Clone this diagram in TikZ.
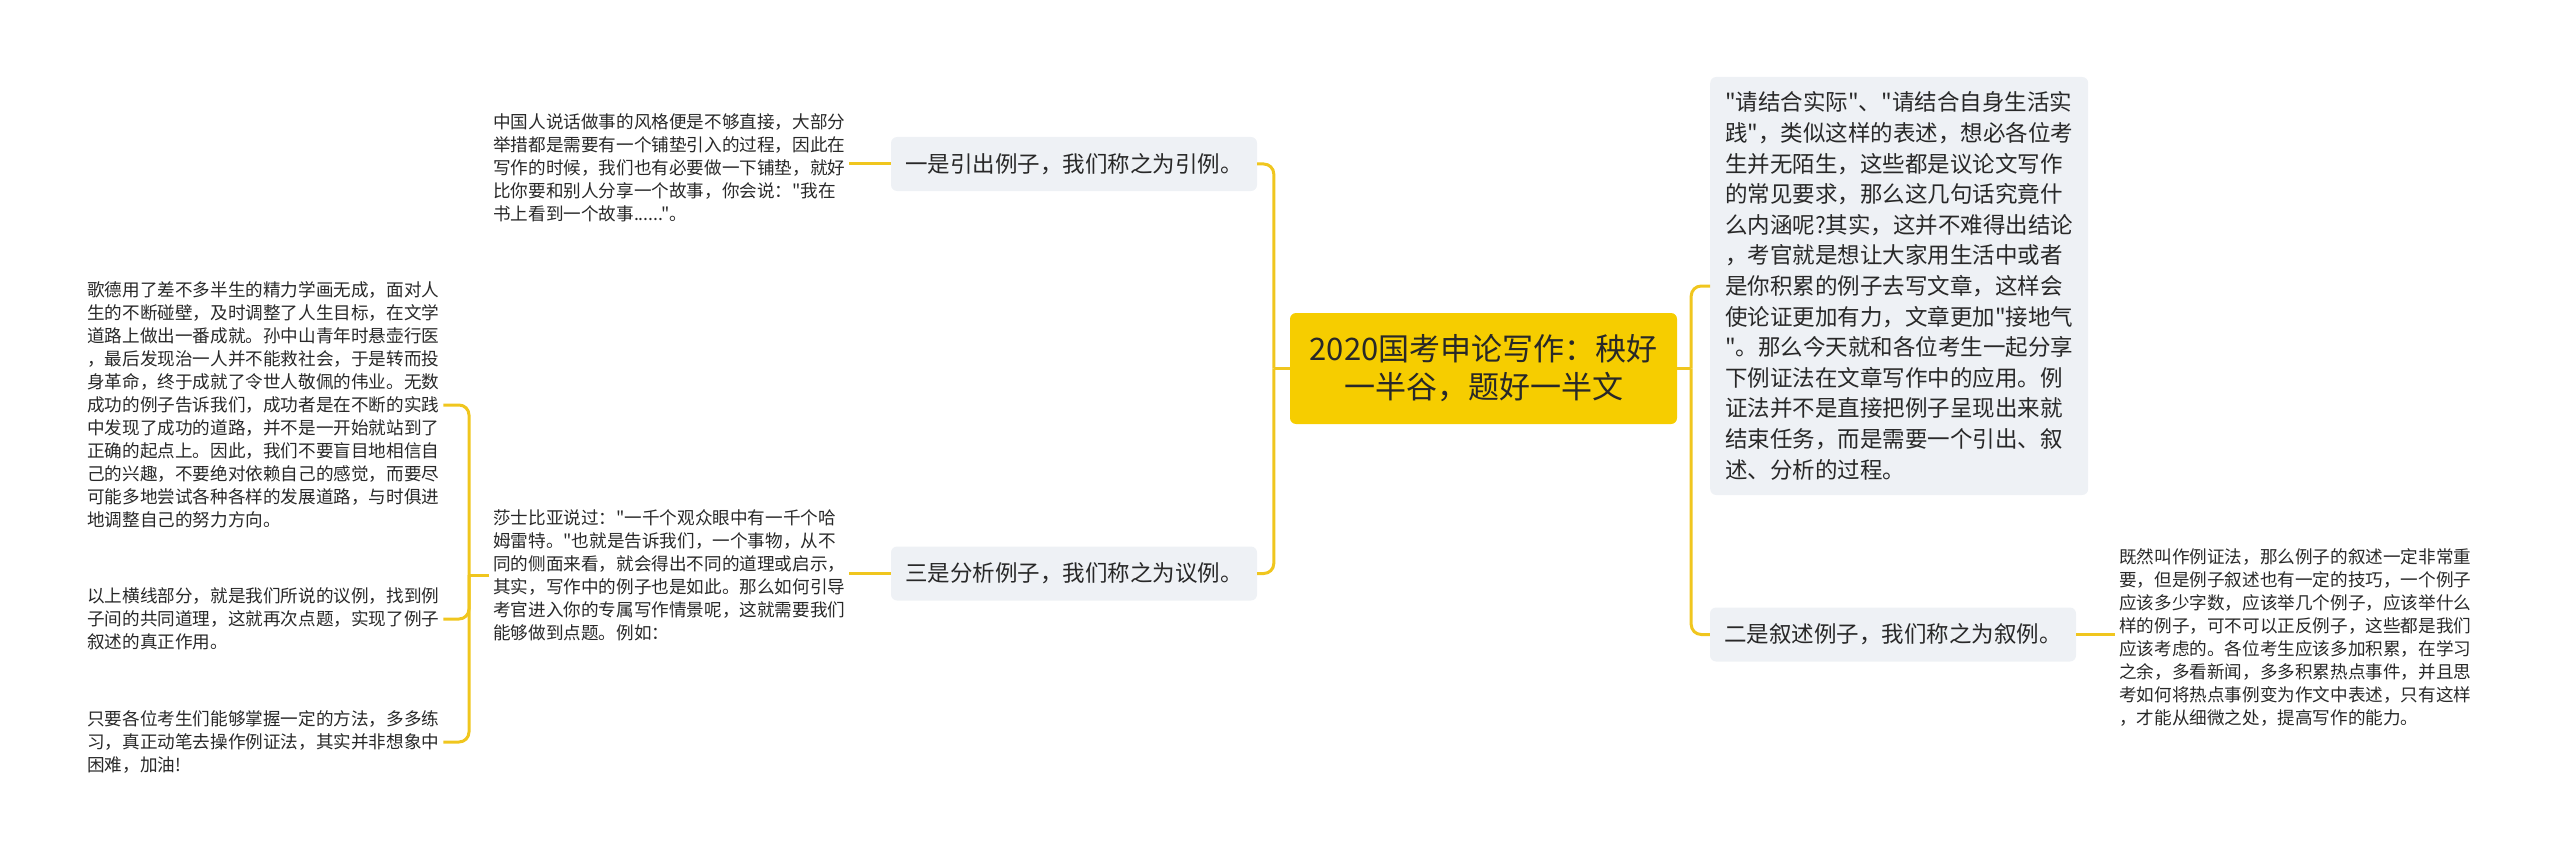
\documentclass[tikz,border=0pt]{standalone}
\usepackage{fontspec}
\newfontfamily\cjk{Noto Sans CJK SC}
\usetikzlibrary{positioning}
\definecolor{gold}{RGB}{246,205,0}
\definecolor{linkgold}{RGB}{240,198,30}
\definecolor{boxgray}{RGB}{238,241,245}
\definecolor{inkgray}{RGB}{40,40,40}

\begin{document}
\begin{tikzpicture}[x=1pt, y=-1pt,
  every node/.style={text=inkgray},
  topic/.style={fill=gold, rounded corners=6pt, minimum width=387pt, minimum height=111pt, align=center, font={\cjk\fontsize{31}{38}\selectfont}},
  branch/.style={fill=boxgray, rounded corners=6pt, minimum width=366pt, minimum height=54pt, font={\cjk\fontsize{22.5}{27}\selectfont}},
  lead/.style={fill=boxgray, rounded corners=6pt, align=left, inner xsep=13pt, minimum width=378pt, minimum height=418pt, font={\cjk\fontsize{22.5}{30.6}\selectfont}},
  note/.style={align=left, inner sep=4pt, font={\cjk\fontsize{17.6}{23}\selectfont}},
  link/.style={draw=linkgold, line width=3pt, rounded corners=10pt}]
\useasboundingbox (0,0) rectangle (2560,864);

% centre and the three kinds of example
\node[topic] (title) at (1483.5,368.5) {2020国考申论写作：秧好\\一半谷，题好一半文};
\node[branch] (yin) at (1074,164) {一是引出例子，我们称之为引例。};
\node[branch] (yi) at (1074,573.5) {三是分析例子，我们称之为议例。};
\node[branch] (xu) at (1893,634.5) {二是叙述例子，我们称之为叙例。};
\node[lead, anchor=west] (lead) at (1710,286) {"请结合实际"、"请结合自身生活实\\践"，类似这样的表述，想必各位考\\生并无陌生，这些都是议论文写作\\的常见要求，那么这几句话究竟什\\么内涵呢?其实，这并不难得出结论\\，考官就是想让大家用生活中或者\\是你积累的例子去写文章，这样会\\使论证更加有力，文章更加"接地气\\"。那么今天就和各位考生一起分享\\下例证法在文章写作中的应用。例\\证法并不是直接把例子呈现出来就\\结束任务，而是需要一个引出、叙\\述、分析的过程。};

% notes
\node[note, anchor=west] (yinnote) at (489,168) {中国人说话做事的风格便是不够直接，大部分\\举措都是需要有一个铺垫引入的过程，因此在\\写作的时候，我们也有必要做一下铺垫，就好\\比你要和别人分享一个故事，你会说："我在\\书上看到一个故事......"。};
\node[note, anchor=west] (yinote) at (489,575) {莎士比亚说过："一千个观众眼中有一千个哈\\姆雷特。"也就是告诉我们，一个事物，从不\\同的侧面来看，就会得出不同的道理或启示，\\其实，写作中的例子也是如此。那么如何引导\\考官进入你的专属写作情景呢，这就需要我们\\能够做到点题。例如：};
\node[note, anchor=west] (xunote) at (2115,637) {既然叫作例证法，那么例子的叙述一定非常重\\要，但是例子叙述也有一定的技巧，一个例子\\应该多少字数，应该举几个例子，应该举什么\\样的例子，可不可以正反例子，这些都是我们\\应该考虑的。各位考生应该多加积累，在学习\\之余，多看新闻，多多积累热点事件，并且思\\考如何将热点事例变为作文中表述，只有这样\\，才能从细微之处，提高写作的能力。};
\node[note, anchor=west] (goethe) at (83,405) {歌德用了差不多半生的精力学画无成，面对人\\生的不断碰壁，及时调整了人生目标，在文学\\道路上做出一番成就。孙中山青年时悬壶行医\\，最后发现治一人并不能救社会，于是转而投\\身革命，终于成就了令世人敬佩的伟业。无数\\成功的例子告诉我们，成功者是在不断的实践\\中发现了成功的道路，并不是一开始就站到了\\正确的起点上。因此，我们不要盲目地相信自\\己的兴趣，不要绝对依赖自己的感觉，而要尽\\可能多地尝试各种各样的发展道路，与时俱进\\地调整自己的努力方向。};
\node[note, anchor=west] (summary) at (83,619) {以上横线部分，就是我们所说的议例，找到例\\子间的共同道理，这就再次点题，实现了例子\\叙述的真正作用。};
\node[note, anchor=west] (cheer) at (83,742) {只要各位考生们能够掌握一定的方法，多多练\\习，真正动笔去操作例证法，其实并非想象中\\困难，加油!};

% connectors
\coordinate (jl) at ([xshift=-16pt]title.west);
\coordinate (jr) at ([xshift=14pt]title.east);
\coordinate (jf) at ([xshift=-20pt]yinote.west);
\draw[link] (title.west) -- (jl);
\draw[link] (jl) |- (yin.east);
\draw[link] (jl) |- (yi.east);
\draw[link] (title.east) -- (jr);
\draw[link] (jr) |- (lead.west);
\draw[link] (jr) |- (xu.west);
\draw[link] (yin.west) -- (yin.west -| yinnote.east);
\draw[link] (yi.west) -- (yi.west -| yinote.east);
\draw[link] (xu.east) -- (xu.east -| xunote.west);
\draw[link] (yinote.west) -- (jf);
\draw[link] (jf) |- (goethe.east);
\draw[link] (jf) |- (summary.east);
\draw[link] (jf) |- (cheer.east);
\end{tikzpicture}
\end{document}
